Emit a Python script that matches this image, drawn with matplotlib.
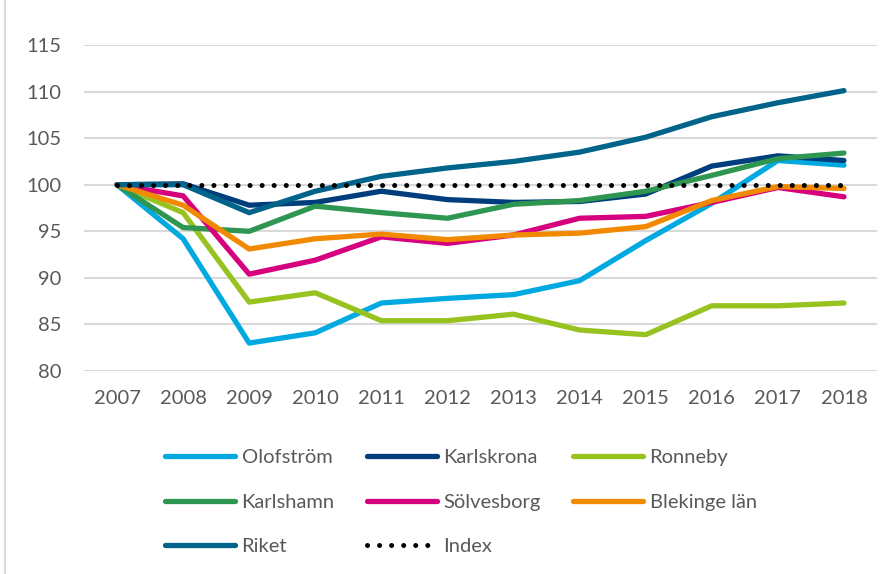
import matplotlib.pyplot as plt
from matplotlib.lines import Line2D

years = ['2007', '2008', '2009', '2010', '2011', '2012',
         '2013', '2014', '2015', '2016', '2017', '2018']

olofstrom = [100, 94.2, 83.0, 84.1, 87.3, 87.8, 88.2, 89.7, 94.0, 98.0, 102.6, 102.1]
karlskrona = [100, 100.1, 97.8, 98.1, 99.3, 98.4, 98.1, 98.2, 99.0, 102.0, 103.1, 102.6]
ronneby = [100, 97.0, 87.4, 88.4, 85.4, 85.4, 86.1, 84.4, 83.9, 87.0, 87.0, 87.3]
karlshamn = [100, 95.4, 95.0, 97.7, 97.0, 96.4, 97.9, 98.3, 99.3, 101.0, 102.8, 103.4]
solvesborg = [100, 98.8, 90.4, 91.9, 94.4, 93.7, 94.6, 96.4, 96.6, 98.1, 99.7, 98.7]
blekinge = [100, 97.8, 93.1, 94.2, 94.7, 94.1, 94.6, 94.8, 95.5, 98.3, 99.8, 99.6]
riket = [100, 100.0, 97.0, 99.3, 100.9, 101.8, 102.5, 103.5, 105.1, 107.3, 108.8, 110.1]
index = [100] * 12

series = [
    ('Olofström', olofstrom, '#00A9E0'),
    ('Karlskrona', karlskrona, '#003D7C'),
    ('Ronneby', ronneby, '#97C21F'),
    ('Karlshamn', karlshamn, '#2E9650'),
    ('Sölvesborg', solvesborg, '#D6007F'),
    ('Blekinge län', blekinge, '#F18A00'),
    ('Riket', riket, '#00648A'),
]

plt.rcParams['font.family'] = ['Lato', 'DejaVu Sans']
fig = plt.figure(figsize=(8.92, 5.74), dpi=100)
ax = fig.add_axes([84 / 892, 1 - 371 / 574, 793 / 892, 326 / 574])

x = list(range(len(years)))
lines = []
for name, vals, col in series:
    l, = ax.plot(x, vals, color=col, lw=3.8, label=name, solid_capstyle='round',
                 solid_joinstyle='round')
    lines.append(l)
l, = ax.plot(x, index, color='black', lw=3.6, linestyle=(0, (0.01, 2.4)),
             dash_capstyle='round', label='Index')
lines.append(l)

ax.set_xlim(-0.5, 11.5)
ax.set_ylim(80, 115)
ax.set_yticks(range(80, 116, 5))
ax.set_xticks(x)
ax.set_xticklabels(years)
ax.grid(axis='y', color='#D9D9D9', lw=1.5)
ax.set_axisbelow(True)
for s in ax.spines.values():
    s.set_visible(False)
ax.tick_params(length=0, labelsize=14.5, labelcolor='#595959')
ax.tick_params(axis='y', pad=16)
ax.tick_params(axis='x', pad=14)

# legend is filled column by column, so reorder to read row by row
order = [0, 3, 6, 1, 4, 7, 2, 5]
handles = [lines[i] for i in order]
leg = fig.legend(handles, [h.get_label() for h in handles],
                 loc='upper left', bbox_to_anchor=(165 / 892, 1 - 449 / 574),
                 ncol=3, frameon=False, fontsize=14.5, handlelength=3.5,
                 handletextpad=0.3, columnspacing=1.6, labelspacing=1.37,
                 borderpad=0, borderaxespad=0)
for t in leg.get_texts():
    t.set_color('#595959')

fig.add_artist(Line2D([5 / 892, 5 / 892], [0, 1], color='#D9D9D9', lw=1.5))

fig.savefig('out.png', dpi=100)
